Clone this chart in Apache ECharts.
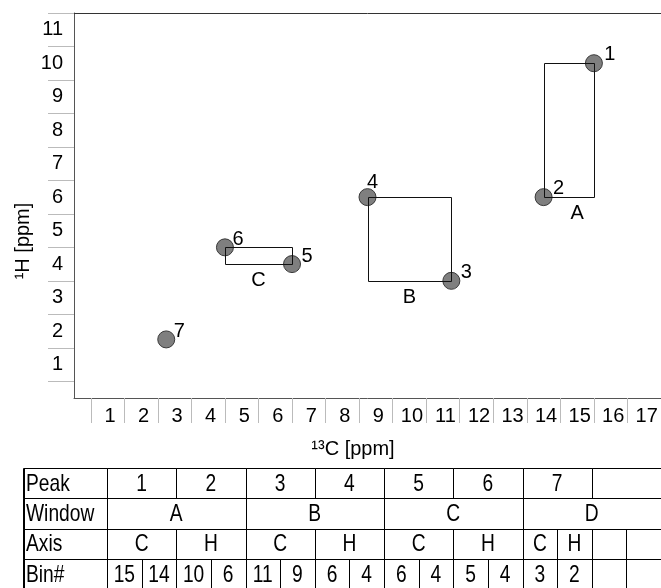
<!DOCTYPE html>
<html>
<head>
<meta charset="utf-8">
<script src="https://cdn.jsdelivr.net/npm/echarts@6/dist/echarts.min.js"></script>
<style>
html,body{margin:0;padding:0;background:#fff;}
#chart{width:661px;height:588px;}
</style>
</head>
<body>
<div id="chart"></div>
<script>
// ---- data ----
const peakNames = ['1', '2', '3', '4', '5', '6', '7'];
const peakC = [15.5, 14, 11.25, 8.75, 6.5, 4.5, 2.75];
const peakH = [10, 6, 3.5, 6, 4, 4.5, 1.75];

const windowNames = ['A', 'B', 'C'];
const windowCMin = [14, 8.75, 4.5];
const windowCMax = [15.5, 11.25, 6.5];
const windowHMin = [6, 3.5, 4];
const windowHMax = [10, 6, 4.5];
const windowLabelC = [15, 10, 5.5];
const windowLabelH = [5.5, 3, 3.5];

const xTickLabels = [1, 2, 3, 4, 5, 6, 7, 8, 9, 10, 11, 12, 13, 14, 15, 16, 17];
const yTickLabels = [1, 2, 3, 4, 5, 6, 7, 8, 9, 10, 11];
const xBinEdges = [0.5, 1.5, 2.5, 3.5, 4.5, 5.5, 6.5, 7.5, 8.5, 9.5, 10.5, 11.5, 12.5, 13.5, 14.5, 15.5, 16.5, 17.5];
const yBinEdges = [0.5, 1.5, 2.5, 3.5, 4.5, 5.5, 6.5, 7.5, 8.5, 9.5, 10.5, 11.5];

const tableRowHeaders = ['Peak', 'Window', 'Axis', 'Bin#'];
const tablePeakRow = ['1', '2', '3', '4', '5', '6', '7', ''];
const tableWindowRow = ['A', 'B', 'C', 'D'];
const tableAxisRow = ['C', 'H', 'C', 'H', 'C', 'H', 'C', 'H', '', ''];
const tableAxisSpans = [2, 2, 2, 2, 2, 2, 1, 1, 1, 1];
const tableBinRow = ['15', '14', '10', '6', '11', '9', '6', '4', '6', '4', '5', '4', '3', '2', '', ''];

// ---- styling / layout ----
const peakLabelOffsets = [[16, -9], [15, -9], [15, -8], [5, -15], [15, -8], [13, -8], [13, -8]];
const FONT = '"Liberation Sans", Arial, sans-serif';

const chart = echarts.init(document.getElementById('chart'), null, {renderer: 'canvas'});

// table graphics
const graphics = [];
const tLeft = 23, tHeadRight = 107, tRight = 661;
const subW = (tRight - tHeadRight) / 16;
const rowTop = 468, rowH = 30.3;
function cellRect(x1, y1, x2, y2) {
  const X1 = Math.round(x1) + 0.5, Y1 = Math.round(y1) + 0.5;
  const X2 = Math.round(x2) + 0.5, Y2 = Math.round(y2) + 0.5;
  graphics.push({
    type: 'rect', silent: true,
    shape: {x: X1, y: Y1, width: X2 - X1, height: Y2 - Y1},
    style: {fill: null, stroke: '#000', lineWidth: 1}
  });
}
function cellText(txt, cx, cy, align) {
  if (!txt) return;
  graphics.push({
    type: 'text', silent: true,
    x: cx, y: cy, scaleX: 0.8, scaleY: 1,
    style: {text: txt, x: 0, y: 0, align: align || 'center', verticalAlign: 'middle',
      font: '24px ' + FONT, fill: '#000'}
  });
}
const rows = [
  {vals: tablePeakRow, spans: tablePeakRow.map(() => 2)},
  {vals: tableWindowRow, spans: tableWindowRow.map(() => 4)},
  {vals: tableAxisRow, spans: tableAxisSpans},
  {vals: tableBinRow, spans: tableBinRow.map(() => 1)}
];
rows.forEach((r, ri) => {
  const y1 = rowTop + ri * rowH, y2 = y1 + rowH;
  cellRect(tLeft, y1, tHeadRight, y2);
  cellText(tableRowHeaders[ri], tLeft + 3, (y1 + y2) / 2 + 1, 'left');
  let col = 0;
  r.vals.forEach((v, i) => {
    const x1 = tHeadRight + col * subW;
    const x2 = tHeadRight + (col + r.spans[i]) * subW;
    cellRect(x1, y1, Math.min(x2, tRight + 2), y2);
    cellText(v, (x1 + x2) / 2, (y1 + y2) / 2 + 1);
    col += r.spans[i];
  });
});
graphics.push({type: 'line', silent: true, shape: {x1: tLeft + 1.5, y1: rowTop, x2: tLeft + 1.5, y2: 588}, style: {stroke: '#000', lineWidth: 1}});

// axis titles
graphics.push({
  type: 'text', silent: true, x: 353, y: 449,
  style: {text: '¹³C [ppm]', align: 'center', verticalAlign: 'middle', font: '20px ' + FONT, fill: '#000'}
});
graphics.push({
  type: 'text', silent: true, x: 23, y: 241, rotation: Math.PI / 2,
  style: {text: '¹H [ppm]', align: 'center', verticalAlign: 'middle', font: '20px ' + FONT, fill: '#000'}
});

const option = {
  animation: false,
  backgroundColor: '#fff',
  grid: {left: 74, top: 13, right: 0, bottom: 190, containLabel: false},
  xAxis: [{
    type: 'value', min: 0, max: 17.5, position: 'bottom',
    axisLine: {show: true, lineStyle: {color: '#555', width: 1}},
    axisTick: {show: true, customValues: xBinEdges, length: 25, lineStyle: {color: '#bbb', width: 1}},
    axisLabel: {show: true, customValues: xTickLabels, color: '#000', fontSize: 20, fontFamily: FONT, margin: 8, padding: [0, 0, 0, 5]},
    splitLine: {show: false}
  }, {
    type: 'value', min: 0, max: 17.5, position: 'top',
    axisLine: {show: true, lineStyle: {color: '#333', width: 1}},
    axisTick: {show: false}, axisLabel: {show: false}, splitLine: {show: false}
  }],
  yAxis: [{
    type: 'value', min: 0, max: 11.5,
    axisLine: {show: true, lineStyle: {color: '#555', width: 1}},
    axisTick: {show: true, customValues: yBinEdges, length: 26, lineStyle: {color: '#bbb', width: 1}},
    axisLabel: {show: true, customValues: yTickLabels, color: '#000', fontSize: 20, fontFamily: FONT, margin: 11},
    splitLine: {show: false}
  }],
  graphic: graphics,
  series: [{
    type: 'scatter',
    z: 2,
    symbol: 'circle',
    symbolSize: 17,
    itemStyle: {color: '#7f7f7f', borderColor: '#3a3a3a', borderWidth: 1, opacity: 1},
    data: peakNames.map((n, i) => ({
      value: [peakC[i], peakH[i]],
      name: n,
      label: {show: true, position: 'inside', offset: peakLabelOffsets[i], formatter: n,
        color: '#000', fontSize: 20, fontFamily: FONT}
    })),
    emphasis: {disabled: true}
  }, {
    type: 'custom',
    z: 3,
    silent: true,
    data: windowNames.map((n, i) => [windowCMin[i], windowCMax[i], windowHMin[i], windowHMax[i], windowLabelC[i], windowLabelH[i], i]),
    encode: {x: [0, 1, 4], y: [2, 3, 5]},
    renderItem: function (params, api) {
      const p1 = api.coord([api.value(0), api.value(3)]);
      const p2 = api.coord([api.value(1), api.value(2)]);
      const lp = api.coord([api.value(4), api.value(5)]);
      const idx = api.value(6);
      const x1 = Math.round(p1[0]) + 0.5, y1 = Math.round(p1[1]) + 0.5;
      const x2 = Math.round(p2[0]) + 0.5, y2 = Math.round(p2[1]) + 0.5;
      return {
        type: 'group',
        children: [{
          type: 'rect',
          shape: {x: x1, y: y1, width: x2 - x1, height: y2 - y1},
          style: {fill: null, stroke: '#111', lineWidth: 1}
        }, {
          type: 'text',
          x: lp[0], y: lp[1],
          style: {text: windowNames[idx], align: 'center', verticalAlign: 'middle', font: '20px ' + FONT, fill: '#000'}
        }]
      };
    }
  }]
};
chart.setOption(option);
</script>
</body>
</html>
